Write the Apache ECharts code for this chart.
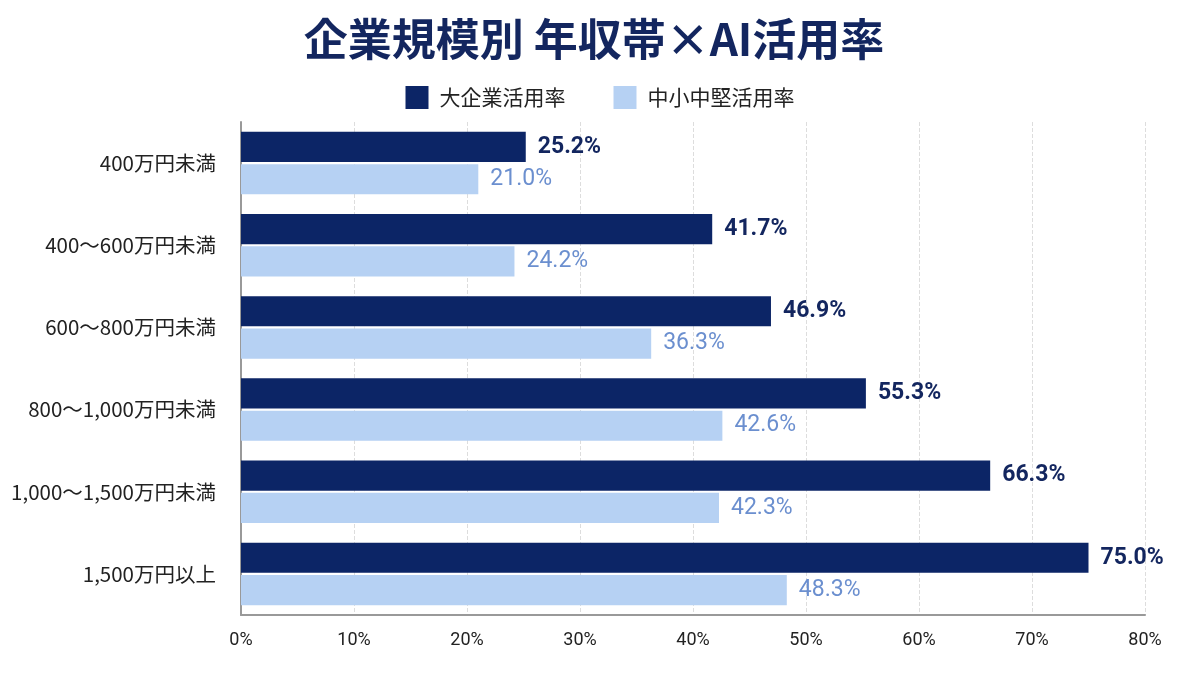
<!DOCTYPE html>
<html>
<head>
<meta charset="utf-8">
<script src="https://cdn.jsdelivr.net/npm/echarts@6/dist/echarts.min.js"></script>
<style>
  html, body { margin: 0; padding: 0; background: #fff; }
  #chart { width: 1200px; height: 675px; }
</style>
</head>
<body>
<div id="chart"></div>
<script>
// 年収帯（上から順）
var categories = ['400万円未満', '400～600万円未満', '600～800万円未満', '800～1,000万円未満', '1,000～1,500万円未満', '1,500万円以上'];
var largeRate = [25.2, 41.7, 46.9, 55.3, 66.3, 75.0];
var smeRate = [21.0, 24.2, 36.3, 42.6, 42.3, 48.3];
var seriesNames = ['大企業活用率', '中小中堅活用率'];

var font = '"Noto Sans CJK JP", "Noto Sans", sans-serif';

var chart = echarts.init(document.getElementById('chart'));
var option = {
    color: ['#0c2566', '#b6d1f3'],
    title: {
        text: '企業規模別 年収帯×AI活用率',
        left: 589,
        textAlign: 'center',
        top: 12,
        textStyle: { fontFamily: font, fontSize: 44, fontWeight: 'bold', color: '#13265f' }
    },
    legend: {
        data: seriesNames,
        top: 81,
        left: 'center',
        itemWidth: 23,
        itemHeight: 23,
        itemGap: 48,
        icon: 'rect',
        textStyle: { fontFamily: font, fontSize: 21, color: '#222', padding: [0, 0, 0, 6] }
    },
    grid: { left: 241, right: 55, top: 122, bottom: 60 },
    xAxis: {
        type: 'value',
        min: 0,
        max: 80,
        interval: 10,
        axisLine: { show: true, lineStyle: { color: '#999', width: 2 } },
        axisTick: { show: false },
        axisLabel: { formatter: '{value}%', fontFamily: 'Roboto, sans-serif', fontSize: 18, color: '#222', margin: 16 },
        splitLine: { show: true, lineStyle: { type: 'dashed', color: '#ddd' } }
    },
    yAxis: {
        type: 'category',
        data: categories,
        inverse: true,
        axisLine: { show: true, lineStyle: { color: '#999', width: 2 } },
        axisTick: { show: false },
        axisLabel: { fontFamily: font, fontSize: 20.5, color: '#222', margin: 25 }
    },
    series: [
        {
            name: seriesNames[0],
            type: 'bar',
            data: largeRate,
            barGap: '7%',
            barCategoryGap: '24%',
            label: {
                show: true,
                position: 'right',
                distance: 12,
                formatter: function (p) { return p.value.toFixed(1) + '%'; },
                fontFamily: 'Roboto, sans-serif',
                fontSize: 23,
                fontWeight: 'bold',
                color: '#13265f'
            }
        },
        {
            name: seriesNames[1],
            type: 'bar',
            data: smeRate,
            label: {
                show: true,
                position: 'right',
                distance: 12,
                formatter: function (p) { return p.value.toFixed(1) + '%'; },
                fontFamily: 'Roboto, sans-serif',
                fontSize: 23,
                color: '#6b8fcf'
            }
        }
    ]
};
chart.setOption(option);
</script>
</body>
</html>
